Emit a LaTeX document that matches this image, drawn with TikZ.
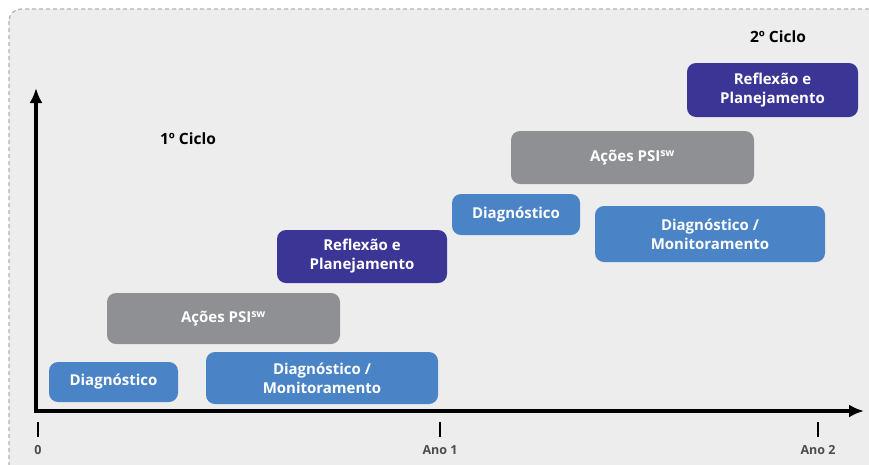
\documentclass[tikz,border=0pt]{standalone}
\usepackage{fontspec}
\setmainfont{Open Sans}
\usetikzlibrary{arrows.meta,calc}
\definecolor{bgray}{HTML}{EDEDED}
\definecolor{pblue}{HTML}{4A84C6}
\definecolor{pgray}{HTML}{8F9094}
\definecolor{ppurple}{HTML}{3B3596}
\tikzstyle{axis} = [draw, line width=3.5pt, -{Latex[length=15pt,width=13pt]}]
\tikzstyle{tick} = [draw, line width=2.5pt]
\tikzstyle{phase} = [rectangle, rounded corners=9pt, align=center, text=white,
                     font={\bfseries\fontsize{15}{19}\selectfont}, inner sep=0pt]
\tikzstyle{diag} = [phase, fill=pblue]
\tikzstyle{acao} = [phase, fill=pgray]
\tikzstyle{refl} = [phase, fill=ppurple]
\tikzstyle{ciclo} = [font={\bfseries\fontsize{15.5}{18}\selectfont}]
\tikzstyle{ano} = [font={\bfseries\fontsize{12.5}{14}\selectfont}, text=black!70]

\begin{document}
\begin{tikzpicture}[x=1pt, y=-1pt]
      \useasboundingbox (0,0) rectangle (869,464);
      \draw [fill=bgray, draw=black!30, dash pattern=on 4pt off 3pt, line width=1.2pt, rounded corners=12pt]
        (9,9) rectangle (885,480);
      % axes
      \coordinate (origin) at (36,411);
      \coordinate (ytop) at (36,88);
      \coordinate (xend) at (864,411);
      \path [axis] (origin) -- (ytop);
      \path [axis] ($(origin)+(-1.75,0)$) -- (xend);
      % ticks
      \foreach \x/\name/\txt in {38/t0/0, 440/t1/Ano 1, 818/t2/Ano 2} {
        \coordinate (\name a) at (\x,422);
        \coordinate (\name b) at (\x,437);
        \path [tick] (\name a) -- (\name b);
        \node [ano] (\name) at (\x,450) {\txt};
      }
      % 1o ciclo
      \node [ciclo] (ciclo1) at (188,139) {1º Ciclo};
      \node [diag, minimum width=129, minimum height=40] (diag1) at (113.5,382)
        {Diagnóstico};
      \node [diag, minimum width=232, minimum height=52] (mon1) at (322,378)
        {Diagnóstico /\\Monitoramento};
      \node [acao, minimum width=233, minimum height=51] (acoes1) at (223.5,318.5)
        {Ações PSI\textsuperscript{sw}};
      \node [refl, minimum width=170, minimum height=53] (refl1) at (362,256.5)
        {Reflexão e\\Planejamento};
      % 2o ciclo
      \node [ciclo] (ciclo2) at (778,37) {2º Ciclo};
      \node [diag, minimum width=128, minimum height=41] (diag2) at (516,214.5)
        {Diagnóstico};
      \node [diag, minimum width=230, minimum height=56] (mon2) at (710,234)
        {Diagnóstico /\\Monitoramento};
      \node [acao, minimum width=243, minimum height=53] (acoes2) at (632.5,157.5)
        {Ações PSI\textsuperscript{sw}};
      \node [refl, minimum width=171, minimum height=54] (refl2) at (772.5,90)
        {Reflexão e\\Planejamento};
    \end{tikzpicture}
\end{document}
